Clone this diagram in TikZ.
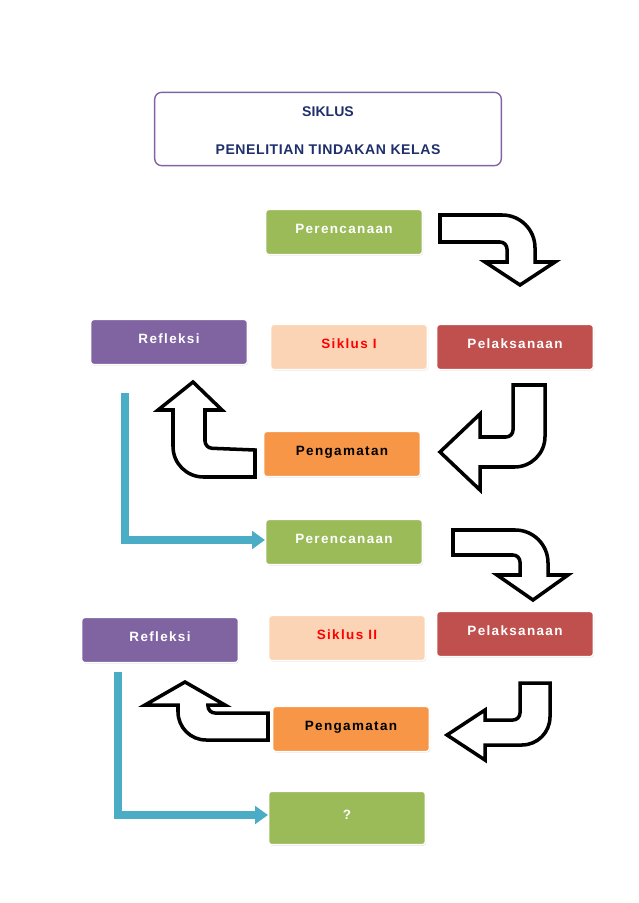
\documentclass[tikz,border=0pt]{standalone}
\usepackage{fontspec}
\setmainfont{Liberation Sans}
\usetikzlibrary{shadows}
\definecolor{hijau}{HTML}{9BBB59}
\definecolor{ungu}{HTML}{8064A2}
\definecolor{merah}{HTML}{C0504D}
\definecolor{oranye}{HTML}{F79646}
\definecolor{krem}{HTML}{FAD4B4}
\definecolor{biru}{HTML}{4BACC6}
\definecolor{navy}{HTML}{1F2F6B}
\tikzset{
  kotak/.style={rounded corners=2.5pt, draw=white, line width=1.2pt, minimum width=4.7cm, minimum height=1.35cm,
    drop shadow={shadow xshift=0.6pt, shadow yshift=-0.8pt, opacity=0.35}, text depth=5pt,
    font=\bfseries\addfontfeature{LetterSpace=10}\fontsize{11.5}{14}\selectfont},
  panah/.style={draw=black, fill=white, line width=3pt, line join=miter},
  alur/.style={biru, line width=6pt, -{Triangle[length=11pt,width=15pt]}},
}
\usetikzlibrary{arrows.meta}
\begin{document}
\begin{tikzpicture}[x=0.03cm,y=-0.03cm]
\useasboundingbox (0,0) rectangle (638,903);
% judul
\node (judul) [draw=ungu, line width=1.2pt, rounded corners=6pt, minimum width=10.4cm, minimum height=2.2cm] at (328,129) {};
\node (judul1) [navy, font=\bfseries\fontsize{12}{14}\selectfont] at (328,112) {SIKLUS};
\node (judul2) [navy, font=\bfseries\addfontfeature{LetterSpace=4}\fontsize{12}{14}\selectfont] at (328,150) {PENELITIAN TINDAKAN KELAS};
% siklus I
\node (ren1) [kotak, fill=hijau, text=white] at (344,232) {Perencanaan};
\node (ref1) [kotak, fill=ungu, text=white] at (169,342) {Refleksi};
\node (sik1) [kotak, fill=krem, text=red] at (349,347) {Siklus I};
\node (pel1) [kotak, fill=merah, text=white] at (515,347) {Pelaksanaan};
\node (pen1) [kotak, fill=oranye, text=black] at (342,454) {Pengamatan};
% siklus II
\node (ren2) [kotak, fill=hijau, text=white] at (344,542) {Perencanaan};
\node (ref2) [kotak, fill=ungu, text=white] at (160,640) {Refleksi};
\node (sik2) [kotak, fill=krem, text=red] at (347,638) {Siklus II};
\node (pel2) [kotak, fill=merah, text=white] at (515,634) {Pelaksanaan};
\node (pen2) [kotak, fill=oranye, text=black] at (351,729) {Pengamatan};
\node (tanya) [kotak, fill=hijau, text=white, minimum height=1.6cm] at (347,818) {?};
% panah blok
\draw [panah] (440,215) [rounded corners=28pt] -- (535,215) [sharp corners] -- (535,262) -- (555,262) -- (520,285) -- (485,262) -- (507,262) [rounded corners=6pt] -- (507,242) [sharp corners] -- (440,242) -- cycle;
\draw [panah] (513,385) -- (545,385) [rounded corners=26pt] -- (545,467) [sharp corners] -- (480,467) -- (480,490) -- (440,452) -- (480,414) -- (480,437) [rounded corners=6pt] -- (513,437) [sharp corners] -- cycle;
\draw [panah] (255,450) -- (255,477) [rounded corners=26pt] -- (173,477) [sharp corners] -- (173,410) -- (158,410) -- (193,382) -- (222,410) -- (205,410) [rounded corners=6pt] -- (205,448) [sharp corners] -- cycle;
\draw [panah] (453,530) [rounded corners=28pt] -- (548,530) [sharp corners] -- (548,575) -- (568,575) -- (533,600) -- (497,575) -- (520,575) [rounded corners=6pt] -- (520,555) [sharp corners] -- (453,555) -- cycle;
\draw [panah] (520,683) -- (550,683) [rounded corners=24pt] -- (550,745) [sharp corners] -- (485,745) -- (485,760) -- (447,735) -- (485,710) -- (485,720) [rounded corners=6pt] -- (520,720) [sharp corners] -- cycle;
\draw [panah] (268,713) -- (268,740) [rounded corners=24pt] -- (178,740) [sharp corners] -- (178,705) -- (145,705) -- (185,682) -- (225,705) -- (208,705) [rounded corners=6pt] -- (208,713) [sharp corners] -- cycle;
% alur biru
\coordinate (a1) at (125,393);
\coordinate (a2) at (118,672);
\draw [alur] (a1) -- (a1 |- 0,540) -- (ren1.west |- 0,540);
\draw [alur] (a2) -- (a2 |- 0,815) -- (tanya.west |- 0,815);
\end{tikzpicture}
\end{document}
